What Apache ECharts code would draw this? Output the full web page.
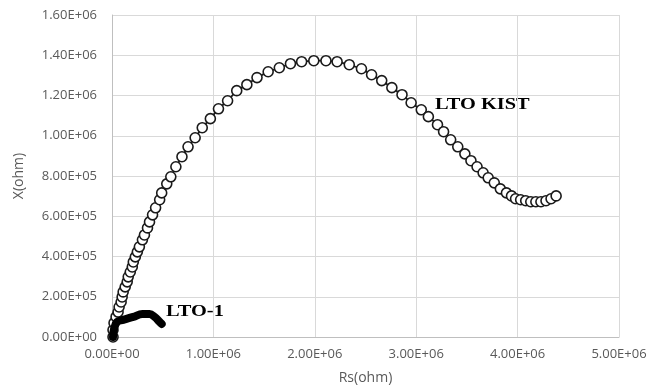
<!DOCTYPE html>
<html>
<head>
<meta charset="utf-8">
<script src="https://cdn.jsdelivr.net/npm/echarts@6/dist/echarts.min.js"></script>
<style>
  html, body { margin: 0; padding: 0; background: #fff; }
  #chart { width: 658px; height: 387px; }
</style>
</head>
<body>
<div id="chart"></div>
<script>
// Rs (x) and X (y) in ohm
const ltoKistRs = [
  0.01e6, 0.01e6, 0.02e6, 0.04e6, 0.06e6, 0.07e6, 0.09e6, 0.10e6, 0.11e6, 0.13e6,
  0.15e6, 0.16e6, 0.18e6, 0.20e6, 0.21e6, 0.23e6, 0.25e6, 0.27e6, 0.30e6, 0.32e6,
  0.35e6, 0.37e6, 0.40e6, 0.43e6, 0.47e6, 0.49e6, 0.54e6, 0.58e6, 0.63e6, 0.69e6,
  0.75e6, 0.82e6, 0.89e6, 0.97e6, 1.05e6, 1.14e6, 1.23e6, 1.33e6, 1.43e6, 1.54e6,
  1.65e6, 1.76e6, 1.87e6, 1.99e6, 2.11e6, 2.22e6, 2.34e6, 2.46e6, 2.56e6, 2.66e6,
  2.76e6, 2.86e6, 2.95e6, 3.05e6, 3.12e6, 3.21e6, 3.27e6, 3.34e6, 3.41e6, 3.48e6,
  3.54e6, 3.60e6, 3.66e6, 3.71e6, 3.77e6, 3.83e6, 3.89e6, 3.94e6, 3.98e6, 4.03e6,
  4.08e6, 4.13e6, 4.18e6, 4.23e6, 4.28e6, 4.33e6, 4.38e6
]
const ltoKistX = [
  0.000e6, 0.035e6, 0.070e6, 0.100e6, 0.124e6, 0.149e6, 0.174e6, 0.199e6, 0.224e6, 0.249e6,
  0.274e6, 0.299e6, 0.323e6, 0.348e6, 0.373e6, 0.398e6, 0.423e6, 0.448e6, 0.483e6, 0.507e6,
  0.542e6, 0.572e6, 0.607e6, 0.642e6, 0.682e6, 0.716e6, 0.761e6, 0.796e6, 0.846e6, 0.896e6,
  0.945e6, 0.990e6, 1.040e6, 1.085e6, 1.134e6, 1.174e6, 1.224e6, 1.254e6, 1.289e6, 1.318e6,
  1.338e6, 1.358e6, 1.368e6, 1.373e6, 1.373e6, 1.368e6, 1.353e6, 1.333e6, 1.303e6, 1.274e6,
  1.239e6, 1.204e6, 1.164e6, 1.129e6, 1.095e6, 1.055e6, 1.020e6, 0.980e6, 0.945e6, 0.910e6,
  0.876e6, 0.846e6, 0.816e6, 0.791e6, 0.766e6, 0.736e6, 0.716e6, 0.701e6, 0.687e6, 0.682e6,
  0.677e6, 0.672e6, 0.672e6, 0.672e6, 0.677e6, 0.687e6, 0.701e6
]

const lto1Rs = [0.01e6, 0.02e6, 0.05e6, 0.11e6, 0.21e6, 0.30e6, 0.37e6, 0.42e6, 0.47e6, 0.49e6]
const lto1X = [0.000e6, 0.040e6, 0.075e6, 0.085e6, 0.100e6, 0.114e6, 0.114e6, 0.100e6, 0.075e6, 0.065e6]

const xTickLabels = ['0.00E+00', '1.00E+06', '2.00E+06', '3.00E+06', '4.00E+06', '5.00E+06']
const yTickLabels = ['0.00E+00', '2.00E+05', '4.00E+05', '6.00E+05', '8.00E+05',
  '1.00E+06', '1.20E+06', '1.40E+06', '1.60E+06']

const chart = echarts.init(document.getElementById('chart'), null, { renderer: 'canvas' })

const labelFont = '"Open Sans", sans-serif'
const gridColor = '#d9d9d9'

chart.setOption({
  animation: false,
  backgroundColor: '#fff',
  grid: { left: 112, right: 39, top: 15, bottom: 50, outerBoundsMode: 'none', containLabel: false },
  xAxis: {
    type: 'value',
    min: 0,
    max: 5e6,
    interval: 1e6,
    name: 'Rs(ohm)',
    nameLocation: 'middle',
    nameGap: 34,
    nameTextStyle: { color: '#595959', fontFamily: labelFont, fontSize: 14 },
    axisLine: { show: true, lineStyle: { color: '#bfbfbf', width: 1 } },
    axisTick: { show: false },
    axisLabel: {
      color: '#595959', fontFamily: labelFont, fontSize: 13, margin: 11,
      formatter: (v, i) => xTickLabels[i]
    },
    splitLine: { show: true, lineStyle: { color: gridColor, width: 1 } }
  },
  yAxis: {
    type: 'value',
    min: 0,
    max: 1.6e6,
    interval: 2e5,
    name: 'X(ohm)',
    nameLocation: 'middle',
    nameGap: 86,
    nameRotate: 90,
    nameTextStyle: { color: '#595959', fontFamily: labelFont, fontSize: 14 },
    axisLine: { show: true, lineStyle: { color: '#bfbfbf', width: 1 } },
    axisTick: { show: false },
    axisLabel: {
      color: '#595959', fontFamily: labelFont, fontSize: 13, margin: 15,
      formatter: (v, i) => yTickLabels[i]
    },
    splitLine: { show: true, lineStyle: { color: gridColor, width: 1 } }
  },
  series: [
    {
      name: 'LTO KIST',
      type: 'line',
      data: ltoKistRs.map((r, i) => [r, ltoKistX[i]]),
      symbol: 'circle',
      symbolSize: 10,
      showAllSymbol: true,
      itemStyle: { color: '#ffffff', borderColor: '#1a1a1a', borderWidth: 1.6 },
      lineStyle: { color: '#1a1a1a', width: 1.8 },
      z: 3
    },
    {
      name: 'LTO-1',
      type: 'line',
      data: lto1Rs.map((r, i) => [r, lto1X[i]]),
      smooth: 0.4,
      symbol: 'none',
      lineStyle: { color: '#000', width: 8, cap: 'round', join: 'round' },
      z: 4
    }
  ],
  graphic: [
    {
      type: 'text',
      x: 435,
      y: 96,
      scaleX: 1.2,
      style: {
        text: 'LTO KIST',
        fill: '#000',
        font: 'bold 17px "Liberation Serif", serif'
      }
    },
    {
      type: 'text',
      x: 166,
      y: 303,
      scaleX: 1.2,
      style: {
        text: 'LTO-1',
        fill: '#000',
        font: 'bold 17px "Liberation Serif", serif'
      }
    }
  ]
})
</script>
</body>
</html>
